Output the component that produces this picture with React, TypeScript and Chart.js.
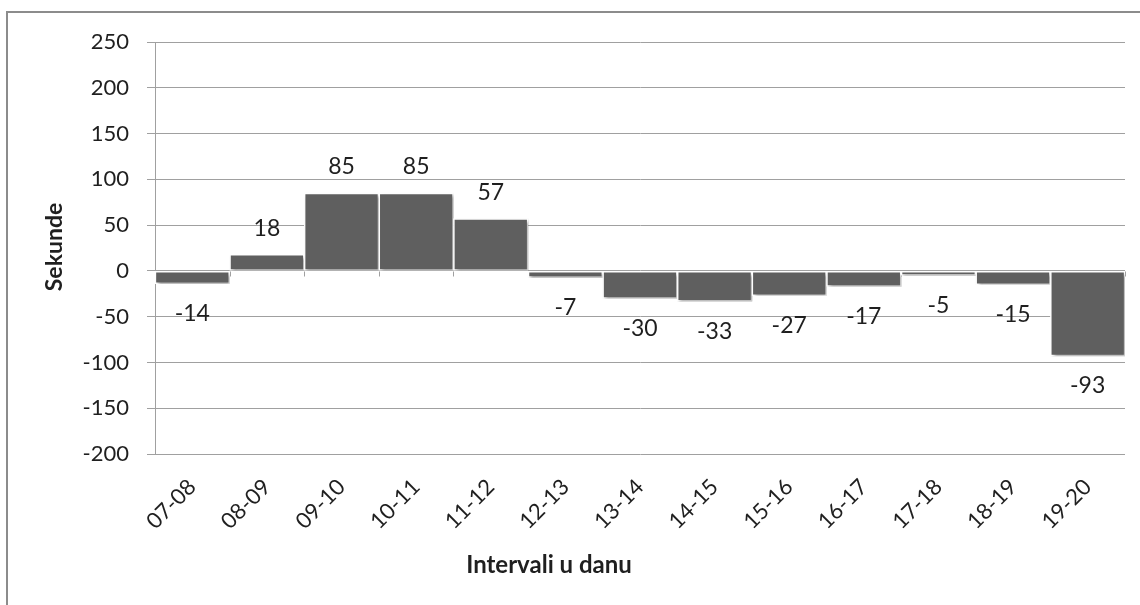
import React, { useEffect, useRef } from "react";
import { Chart, registerables } from "chart.js";

Chart.register(...registerables);

const categories = ["07-08", "08-09", "09-10", "10-11", "11-12", "12-13", "13-14", "14-15", "15-16", "16-17", "17-18", "18-19", "19-20"];
const values = [-14, 18, 85, 85, 57, -7, -30, -33, -27, -17, -5, -15, -93];
const yTitle = "Sekunde";
const xTitle = "Intervali u danu";
const yMin = -200;
const yMax = 250;
const yStep = 50;

const FONT = "Lato, 'DejaVu Sans', sans-serif";
const TEXT = "#1f1f1f";
const GRID = "#a0a0a0";

const decorPlugin = {
  id: "decor",
  beforeDraw(chart: any) {
    const ctx = chart.ctx;
    ctx.save();
    ctx.fillStyle = "#ffffff";
    ctx.fillRect(0, 0, chart.width, chart.height);
    ctx.strokeStyle = "#8c8c8c";
    ctx.lineWidth = 2;
    ctx.beginPath();
    ctx.moveTo(7, chart.height);
    ctx.lineTo(7, 12);
    ctx.lineTo(chart.width, 12);
    ctx.stroke();
    ctx.restore();
  },
  beforeDatasetsDraw(chart: any) {
    const ctx = chart.ctx;
    ctx.save();
    const x = chart.scales.x;
    const y = chart.scales.y;
    const y0 = Math.round(y.getPixelForValue(0)) + 0.5;
    ctx.strokeStyle = GRID;
    ctx.lineWidth = 1;
    ctx.beginPath();
    for (let i = 0; i <= categories.length; i++) {
      const px = Math.round(x.left + ((x.right - x.left) * i) / categories.length) + 0.5;
      ctx.moveTo(px, y0);
      ctx.lineTo(px, y0 + 5);
    }
    ctx.stroke();
    ctx.shadowColor = "rgba(0,0,0,0.35)";
    ctx.shadowBlur = 3;
    ctx.shadowOffsetX = 2;
    ctx.shadowOffsetY = 2;
  },
  afterDatasetsDraw(chart: any) {
    const ctx = chart.ctx;
    ctx.restore();
    ctx.save();
    const meta = chart.getDatasetMeta(0);
    ctx.fillStyle = TEXT;
    ctx.font = `23px ${FONT}`;
    ctx.textAlign = "center";
    ctx.textBaseline = "middle";
    meta.data.forEach((bar: any, i: number) => {
      const v = values[i];
      const ty = v >= 0 ? bar.y - 26 : bar.y + 30;
      ctx.fillText(String(v), bar.x, ty);
    });
    ctx.font = `bold 24px ${FONT}`;
    ctx.fillText(xTitle, 549, 565);
    ctx.font = `bold 23px ${FONT}`;
    ctx.translate(55, 247);
    ctx.rotate(-Math.PI / 2);
    ctx.fillText(yTitle, 0, 0);
    ctx.restore();
  },
};

export default function App() {
  const ref = useRef<HTMLCanvasElement | null>(null);
  useEffect(() => {
    document.body.style.margin = "0";
    const chart = new Chart(ref.current as HTMLCanvasElement, {
      type: "bar",
      data: {
        labels: categories,
        datasets: [
          {
            data: values,
            backgroundColor: "#5f5f5f",
            borderColor: "#ffffff",
            borderWidth: 1.5,
            borderSkipped: false,
            categoryPercentage: 1,
            barPercentage: 1,
          },
        ],
      },
      options: {
        animation: false,
        responsive: false,
        layout: { padding: { left: 0, right: 15, top: 42, bottom: 0 } },
        plugins: { legend: { display: false }, tooltip: { enabled: false }, title: { display: false } },
        scales: {
          x: {
            grid: { display: false },
            border: { display: false },
            ticks: {
              minRotation: 45,
              maxRotation: 45,
              color: TEXT,
              font: { family: FONT, size: 22 },
              padding: 12,
            },
            afterFit(scale: any) {
              scale.height = 151;
            },
          },
          y: {
            min: yMin,
            max: yMax,
            grid: { color: GRID, lineWidth: 1, tickLength: 8, drawTicks: true },
            border: { display: true, color: GRID, width: 1 },
            ticks: {
              stepSize: yStep,
              color: TEXT,
              font: { family: FONT, size: 22 },
              padding: 18,
            },
            afterFit(scale: any) {
              scale.width = 155;
            },
          },
        },
      },
      plugins: [decorPlugin],
    });
    return () => chart.destroy();
  }, []);
  return (
    <div style={{ width: 1140, height: 605, position: "relative" }}>
      <canvas ref={ref} width={1140} height={605} style={{ width: 1140, height: 605, display: "block" }} />
    </div>
  );
}
